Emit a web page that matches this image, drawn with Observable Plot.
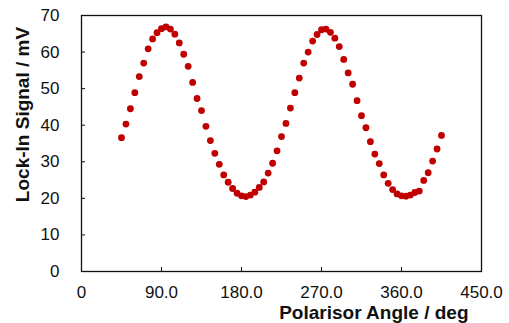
<!DOCTYPE html>
<html>
<head>
<meta charset="utf-8">
<script src="https://cdn.jsdelivr.net/npm/d3@7"></script>
<script src="https://cdn.jsdelivr.net/npm/@observablehq/plot@0.6"></script>
<style>
  html, body { margin: 0; padding: 0; background: #fff; }
  #chart { width: 509px; height: 323px; }
</style>
</head>
<body>
<div id="chart"></div>
<script>
const angles = [45, 50, 55, 60, 65, 70, 75, 80, 85, 90, 95, 100, 105, 110, 115, 120,
  125, 130, 135, 140, 145, 150, 155, 160, 165, 170, 175, 180, 185, 190, 195, 200,
  205, 210, 215, 220, 225, 230, 235, 240, 245, 250, 255, 260, 265, 270, 275, 280,
  285, 290, 295, 300, 305, 310, 315, 320, 325, 330, 335, 340, 345, 350, 355, 360,
  365, 370, 375, 380, 385, 390, 395, 400, 405];
const signal = [36.6, 40.3, 44.5, 48.9, 53.3, 57.0, 60.9, 63.6, 65.3, 66.4, 66.9, 66.3, 64.9, 62.5, 59.4, 56.1,
  51.7, 47.3, 44.0, 39.7, 35.8, 32.3, 29.3, 26.4, 24.4, 22.7, 21.4, 20.7, 20.5, 20.9, 21.7, 23.0,
  24.5, 26.9, 29.6, 33.0, 36.9, 40.5, 44.7, 48.9, 52.9, 57.0, 60.0, 63.0, 64.8, 66.1, 66.3, 65.4,
  63.8, 61.5, 58.0, 54.3, 51.2, 46.7, 42.6, 39.3, 35.5, 32.1, 29.5, 26.4, 24.1, 22.4, 21.2, 20.7,
  20.6, 20.9, 21.6, 22.0, 24.9, 27.0, 30.2, 33.5, 37.2];
const xTicks = [0, 90, 180, 270, 360, 450];
const yTicks = [0, 10, 20, 30, 40, 50, 60, 70];
const xTitle = "Polarisor Angle / deg";
const yTitle = "Lock-In Signal / mV";

const data = angles.map((a, i) => ({angle: a, value: signal[i]}));

const chart = Plot.plot({
  width: 509,
  height: 323,
  marginLeft: 81,
  marginRight: 28,
  marginTop: 15,
  marginBottom: 52,
  style: {fontFamily: "'Liberation Sans', Arial, Helvetica, sans-serif", fontSize: "17px", color: "#111", background: "#fff"},
  x: {domain: [0, 450]},
  y: {domain: [0, 70]},
  marks: [
    Plot.axisX({ticks: xTicks, tickSize: -4, tickPadding: 18, label: null,
      tickFormat: d => d === 0 ? "0" : d.toFixed(1), fontSize: 17}),
    Plot.axisY({ticks: yTicks, tickSize: -4, tickPadding: 26, label: null, fontSize: 17}),
    Plot.frame({stroke: "#111", strokeWidth: 1.3}),
    Plot.dot(data, {x: "angle", y: "value", r: 3.4, fill: "#c00000", stroke: "none"}),
    Plot.text([xTitle], {frameAnchor: "bottom-right", textAnchor: "end", lineAnchor: "middle",
      dx: -13, dy: 41, fontWeight: "bold", fontSize: 19, fill: "#111"}),
    Plot.text([yTitle], {frameAnchor: "left", textAnchor: "middle", rotate: -90, lineAnchor: "middle",
      dx: -59, dy: -29, fontWeight: "bold", fontSize: 19, fill: "#111"})
  ]
});
document.getElementById("chart").appendChild(chart);
</script>
</body>
</html>
